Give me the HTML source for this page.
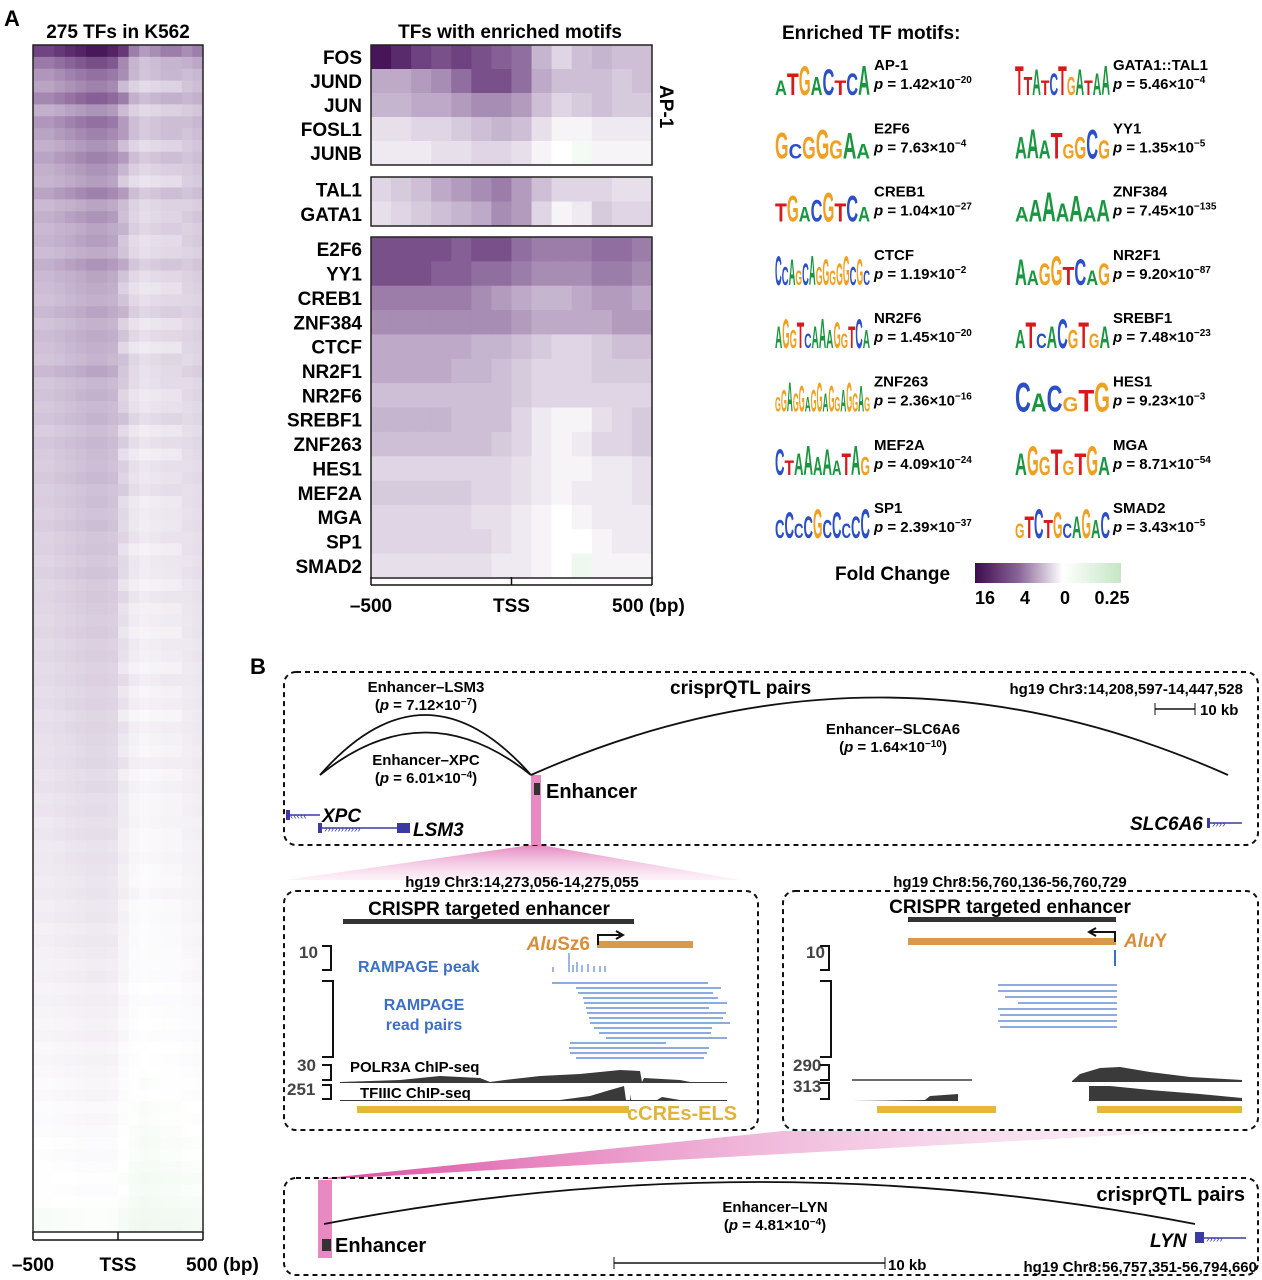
<!DOCTYPE html>
<html><head><meta charset="utf-8"><style>
body{margin:0;background:#fff}
svg{display:block;font-family:"Liberation Sans",Arial,sans-serif}
.b{font-weight:bold}
</style></head><body>
<svg id="fig" width="1262" height="1280" viewBox="0 0 1262 1280" xmlns="http://www.w3.org/2000/svg">
<defs>
<linearGradient id="pinkfan" x1="0" y1="0" x2="0" y2="1"><stop offset="0" stop-color="#e278b8" stop-opacity="0.9"/><stop offset="1" stop-color="#f6d2e8" stop-opacity="0.3"/></linearGradient>
<linearGradient id="pinkfan2" x1="0" y1="0" x2="1" y2="0"><stop offset="0" stop-color="#d9409a" stop-opacity="0.95"/><stop offset="0.5" stop-color="#ea9acb" stop-opacity="0.7"/><stop offset="1" stop-color="#f6d2e8" stop-opacity="0.3"/></linearGradient>
<linearGradient id="cbar" x1="0" y1="0" x2="1" y2="0"><stop offset="0" stop-color="#3d0a4e"/><stop offset="0.3" stop-color="#8a6599"/><stop offset="0.6" stop-color="#ffffff"/><stop offset="1" stop-color="#c5e6c5"/></linearGradient>
</defs>
<text x="4" y="26" class="b" font-size="22">A</text>
<text x="118" y="38" class="b" font-size="19" text-anchor="middle">275 TFs in K562</text>
<g id="leftHM"></g>
<rect x="33" y="45" width="170" height="1187" fill="none" stroke="#222" stroke-width="1.5"/>
<g id="leftAxis"></g>

<text x="510" y="38" class="b" font-size="19" text-anchor="middle">TFs with enriched motifs</text>
<g id="midHM"></g>
<g id="midAxis"></g>
<text x="660" y="85" class="b" font-size="19" transform="rotate(90 660 85)">AP-1</text>

<text x="782" y="39" class="b" font-size="19">Enriched TF motifs:</text>
<g id="motifs"></g>

<text x="835" y="580" class="b" font-size="19">Fold Change</text>
<rect x="975" y="563" width="146" height="20" fill="url(#cbar)"/>
<g font-size="18" class="b" text-anchor="middle">
<text x="985" y="604">16</text><text x="1025" y="604">4</text><text x="1065" y="604">0</text><text x="1112" y="604">0.25</text>
</g>

<!-- Panel B -->
<text x="250" y="674" class="b" font-size="22">B</text>
<polygon points="531,845 541,845 740,880 285,880" fill="url(#pinkfan)"/>
<polygon points="783,1131 1195,1131 332,1179 318,1179" fill="url(#pinkfan2)"/>
<rect x="284" y="672" width="974" height="173" rx="12" fill="none" stroke="#111" stroke-width="2" stroke-dasharray="5,4"/>
<rect x="531" y="775" width="10" height="70" fill="#e889c2"/>
<text x="670" y="694" class="b" font-size="19">crisprQTL pairs</text>
<text x="1243" y="694" class="b" font-size="15" text-anchor="end">hg19 Chr3:14,208,597-14,447,528</text>
<line x1="1155" y1="709" x2="1195" y2="709" stroke="#111" stroke-width="1.5"/><line x1="1155" y1="703" x2="1155" y2="715" stroke="#111"/><line x1="1195" y1="703" x2="1195" y2="715" stroke="#111"/>
<text x="1200" y="715" class="b" font-size="15">10 kb</text>
<g fill="none" stroke="#111" stroke-width="1.8">
<path d="M320,775 Q425,655 531,775"/>
<path d="M320,775 Q425,690 531,775"/>
<path d="M531,775 Q880,620 1228,775"/>
</g>
<g class="b" font-size="15" text-anchor="middle">
<text x="426" y="692">Enhancer–LSM3</text><text x="426" y="710">(<tspan font-style="italic">p</tspan> = 7.12×10<tspan dy="-5" font-size="10">−7</tspan><tspan dy="5">)</tspan></text>
<text x="426" y="765">Enhancer–XPC</text><text x="426" y="783">(<tspan font-style="italic">p</tspan> = 6.01×10<tspan dy="-5" font-size="10">−4</tspan><tspan dy="5">)</tspan></text>
<text x="893" y="734">Enhancer–SLC6A6</text><text x="893" y="752">(<tspan font-style="italic">p</tspan> = 1.64×10<tspan dy="-5" font-size="10">−10</tspan><tspan dy="5">)</tspan></text>
</g>
<rect x="534" y="783" width="6" height="12" fill="#333"/>
<text x="546" y="798" class="b" font-size="20">Enhancer</text>
<g><line x1="286" y1="815" x2="320" y2="815" stroke="#3a3aa0" stroke-width="1.5"/><rect x="286" y="810" width="4" height="10" fill="#3a3aa0"/><text x="290" y="819" font-size="10" fill="#3a3aa0">‹‹‹‹‹</text><text x="322" y="822" class="b" font-style="italic" font-size="19">XPC</text></g>
<g><line x1="318" y1="828" x2="400" y2="828" stroke="#3a3aa0" stroke-width="1.5"/><rect x="318" y="823" width="4" height="10" fill="#3a3aa0"/><rect x="397" y="823" width="13" height="10" fill="#3a3aa0"/><text x="324" y="832" font-size="10" fill="#3a3aa0">›››››››››››</text><text x="413" y="836" class="b" font-style="italic" font-size="19">LSM3</text></g>
<g><text x="1130" y="830" class="b" font-style="italic" font-size="19">SLC6A6</text><line x1="1207" y1="823" x2="1242" y2="823" stroke="#3a3aa0" stroke-width="1.5"/><rect x="1207" y="818" width="3" height="10" fill="#3a3aa0"/><text x="1212" y="827" font-size="10" fill="#3a3aa0">››››</text></g>

<!-- sub box 1 -->
<text x="522" y="887" class="b" font-size="15" text-anchor="middle">hg19 Chr3:14,273,056-14,275,055</text>
<rect x="284" y="891" width="474" height="239" rx="12" fill="none" stroke="#111" stroke-width="2" stroke-dasharray="5,4"/>
<text x="489" y="915" class="b" font-size="19" text-anchor="middle">CRISPR targeted enhancer</text>
<rect x="343" y="919" width="291" height="5" fill="#333"/>
<text x="590" y="950" class="b" font-style="italic" font-size="19" fill="#d98d38" text-anchor="end">Alu<tspan font-style="normal">Sz6</tspan></text>
<rect x="597" y="941" width="96" height="7" fill="#d9994d"/>
<path d="M598,945 L598,935 L622,935 M616,931 L623,935 L616,939" fill="none" stroke="#111" stroke-width="2"/>
<g class="b" font-size="17" fill="#444"><text x="299" y="958">10</text><text x="297" y="1071">30</text><text x="287" y="1095">251</text></g>
<path d="M322,946 L331,946 L331,970 L322,970 M322,981 L333,981 L333,1057 L322,1057 M322,1065 L331,1065 L331,1080 L322,1080 M322,1085 L331,1085 L331,1099 L322,1099" fill="none" stroke="#111" stroke-width="2"/>
<text x="358" y="972" class="b" font-size="16" fill="#3d6fc6">RAMPAGE peak</text>
<g stroke="#3d6fc6" stroke-width="1">
<line x1="553" y1="967" x2="553" y2="972"/><line x1="569" y1="953" x2="569" y2="972"/><line x1="573" y1="965" x2="573" y2="972"/><line x1="577" y1="962" x2="577" y2="972"/><line x1="582" y1="965" x2="582" y2="972"/><line x1="588" y1="964" x2="588" y2="972"/><line x1="594" y1="966" x2="594" y2="972"/><line x1="600" y1="966" x2="600" y2="972"/><line x1="605" y1="966" x2="605" y2="972"/></g>
<text x="424" y="1010" class="b" font-size="16" fill="#3d6fc6" text-anchor="middle">RAMPAGE</text>
<text x="424" y="1030" class="b" font-size="16" fill="#3d6fc6" text-anchor="middle">read pairs</text>
<g id="reads1" stroke="#4a78cc" stroke-width="1.2"></g>
<text x="350" y="1072" class="b" font-size="15">POLR3A ChIP-seq</text>
<path d="M340,1082 L400,1080 L440,1076 L480,1078 L490,1082 L505,1080 L540,1076 L580,1074 L600,1072 L620,1070 L640,1071 L642,1082 L644,1078 L680,1080 L690,1082 L727,1082 L727,1083 L340,1083Z" fill="#3a3a3a"/>
<text x="360" y="1098" class="b" font-size="15">TFIIIC ChIP-seq</text>
<path d="M340,1100 L560,1100 L590,1096 L610,1090 L624,1086 L626,1100 L630,1100 L630,1094 L631,1100 L657,1100 L662,1097 L680,1100 L727,1100 L727,1101 L340,1101Z" fill="#3a3a3a"/>
<rect x="357" y="1106" width="272" height="7" fill="#e3b93a"/>
<text x="627" y="1120" class="b" font-size="20" fill="#e0b33a">cCREs-ELS</text>

<!-- sub box 2 -->
<text x="1010" y="887" class="b" font-size="15" text-anchor="middle">hg19 Chr8:56,760,136-56,760,729</text>
<rect x="783" y="891" width="475" height="239" rx="12" fill="none" stroke="#111" stroke-width="2" stroke-dasharray="5,4"/>
<text x="1010" y="913" class="b" font-size="19" text-anchor="middle">CRISPR targeted enhancer</text>
<rect x="908" y="917" width="208" height="5" fill="#333"/>
<rect x="908" y="938" width="208" height="7" fill="#d9994d"/>
<path d="M1115,942 L1115,932 L1090,932 M1096,928 L1089,932 L1096,936" fill="none" stroke="#111" stroke-width="2"/>
<text x="1124" y="947" class="b" font-style="italic" font-size="19" fill="#d98d38">Alu<tspan font-style="normal">Y</tspan></text>
<g class="b" font-size="17" fill="#444"><text x="806" y="958">10</text><text x="793" y="1071">290</text><text x="793" y="1092">313</text></g>
<path d="M820,946 L829,946 L829,970 L820,970 M820,981 L831,981 L831,1057 L820,1057 M820,1065 L829,1065 L829,1080 L820,1080 M820,1083 L829,1083 L829,1099 L820,1099" fill="none" stroke="#111" stroke-width="2"/>
<line x1="1115" y1="950" x2="1115" y2="966" stroke="#3d6fc6" stroke-width="2"/>
<g id="reads2" stroke="#4a78cc" stroke-width="1.2"></g>
<line x1="852" y1="1080" x2="972" y2="1080" stroke="#3a3a3a" stroke-width="1.5"/>
<path d="M1072,1081 L1080,1074 L1100,1068 L1120,1067 L1150,1072 L1190,1077 L1242,1080 L1242,1082 L1072,1082Z" fill="#3a3a3a"/>
<path d="M852,1101 L925,1100 L930,1096 L958,1094 L958,1101Z" fill="#3a3a3a"/>
<path d="M1089,1101 L1089,1086 L1110,1086 L1150,1090 L1200,1094 L1242,1098 L1242,1101Z" fill="#3a3a3a"/>
<rect x="877" y="1106" width="119" height="7" fill="#e3b93a"/><rect x="1097" y="1106" width="145" height="7" fill="#e3b93a"/>

<!-- bottom box -->
<rect x="284" y="1178" width="974" height="97" rx="12" fill="none" stroke="#111" stroke-width="2" stroke-dasharray="5,4"/>
<rect x="318" y="1180" width="14" height="78" fill="#e889c2"/>
<text x="1245" y="1201" class="b" font-size="20" text-anchor="end">crisprQTL pairs</text>
<path d="M324,1224 Q760,1140 1195,1224" fill="none" stroke="#111" stroke-width="1.8"/>
<text x="775" y="1212" class="b" font-size="15" text-anchor="middle">Enhancer–LYN</text>
<text x="775" y="1230" class="b" font-size="15" text-anchor="middle">(<tspan font-style="italic">p</tspan> = 4.81×10<tspan dy="-5" font-size="10">−4</tspan><tspan dy="5">)</tspan></text>
<rect x="322" y="1239" width="9" height="12" fill="#333"/>
<text x="335" y="1252" class="b" font-size="20">Enhancer</text>
<text x="1150" y="1247" class="b" font-style="italic" font-size="19">LYN</text>
<rect x="1195" y="1232" width="9" height="11" fill="#3a3aa0"/><line x1="1204" y1="1238" x2="1246" y2="1238" stroke="#3a3aa0" stroke-width="1.5"/><text x="1206" y="1242" font-size="10" fill="#3a3aa0">›››››</text>
<line x1="614" y1="1263" x2="885" y2="1263" stroke="#111" stroke-width="1.5"/><line x1="614" y1="1257" x2="614" y2="1269" stroke="#111"/><line x1="885" y1="1257" x2="885" y2="1269" stroke="#111"/>
<text x="888" y="1270" class="b" font-size="15">10 kb</text>
<text x="1257" y="1272" class="b" font-size="15" text-anchor="end">hg19 Chr8:56,757,351-56,794,660</text>
</svg>
<script>
// ---- data ----
const leftRowIntensity=[0.85,0.65,0.55,0.5,0.6,0.45,0.55,0.5,0.45,0.5,0.45,0.42,0.5,0.4,0.45,0.4,0.42,0.38,0.45,0.4,0.38,0.36,0.4,0.35,0.38,0.36,0.34,0.4,0.33,0.35,0.32,0.34,0.3,0.33,0.31,0.3,0.32,0.29,0.3,0.28,0.3,0.27,0.28,0.26,0.28,0.25,0.26,0.25,0.24,0.25,0.23,0.24,0.22,0.23,0.21,0.22,0.2,0.21,0.2,0.19,0.2,0.18,0.19,0.17,0.18,0.16,0.17,0.15,0.16,0.15,0.14,0.15,0.13,0.14,0.12,0.13,0.12,0.11,0.12,0.1,0.11,0.1,0.09,0.1,0.08,0.09,0.08,0.07,0.08,0.06,0.07,0.06,0.05,0.06,0.05,0.04,0.05,0.04,0.03,0.03];
const leftRowRightDip=[0,0.3,0,0.6,0,0.4,0.2,0,0.5,0,0.3,0.7,0,0.2,0.5,0,0.6,0.3,0,0.4,0.7,0.2,0,0.6,0.3,0.8,0,0.5,0.2,0.7,0.4,0,0.6,0.3,0.8,0.2,0.5,0,0.7,0.4,0.6,0.2,0.8,0.3,0.5,0.7,0.2,0.6,0.4,0.8,0.3,0.5,0.7,0.2,0.6,0.4,0.8,0.3,0.5,0.6,0.2,0.7,0.4,0.5,0.6,0.3,0.7,0.5,0.4,0.6,0.5,0.3,0.6,0.5,0.4,0.6,0.5,0.4,0.5,0.6,0.4,0.5,0.5,0.4,0.5,0.5,0.4,0.5,0.5,0.4,0.5,0.5,0.4,0.5,0.5,0.4,0.5,0.5,0.4,0.5];
const leftColProfile=[0.8,0.8,0.85,0.9,0.95,1,1,0.95,0.85,0.6,0.5,0.55,0.6,0.6,0.55,0.6];
const midTFs=["FOS","JUND","JUN","FOSL1","JUNB","TAL1","GATA1","E2F6","YY1","CREB1","ZNF384","CTCF","NR2F1","NR2F6","SREBF1","ZNF263","HES1","MEF2A","MGA","SP1","SMAD2"];
const midGroups=[5,2,14];
const midValues=[
[.95,.85,.75,.7,.75,.7,.65,.6,.35,.2,.3,.35,.3,.3],
[.4,.4,.45,.5,.6,.7,.7,.6,.4,.3,.3,.3,.25,.3],
[.35,.35,.4,.4,.45,.5,.5,.45,.3,.2,.25,.3,.25,.25],
[.15,.15,.2,.2,.25,.3,.35,.3,.15,.05,.05,.1,.1,.1],
[.1,.1,.1,.15,.15,.2,.2,.15,.05,0,-.02,.05,.05,.05],
[.2,.25,.3,.4,.45,.5,.55,.45,.3,.2,.2,.2,.15,.15],
[.15,.2,.25,.3,.35,.4,.5,.45,.2,.05,.1,.25,.2,.2],
[.7,.7,.7,.7,.65,.7,.7,.6,.55,.55,.55,.6,.6,.55],
[.7,.7,.7,.65,.65,.6,.6,.55,.5,.5,.5,.55,.55,.5],
[.55,.55,.55,.55,.55,.5,.45,.4,.35,.35,.4,.45,.45,.4],
[.5,.5,.5,.5,.5,.5,.5,.45,.4,.4,.4,.4,.45,.45],
[.4,.4,.4,.4,.4,.35,.35,.3,.25,.2,.2,.25,.3,.3],
[.4,.4,.4,.4,.35,.35,.3,.25,.2,.2,.2,.25,.25,.25],
[.3,.3,.3,.3,.3,.3,.3,.25,.2,.2,.2,.2,.2,.2],
[.35,.35,.35,.35,.3,.3,.3,.2,.1,.05,.05,.15,.2,.25],
[.3,.3,.3,.3,.3,.3,.25,.2,.1,.05,.1,.2,.2,.25],
[.2,.2,.2,.2,.2,.2,.2,.15,.1,.05,.05,.1,.1,.15],
[.25,.25,.25,.25,.25,.2,.2,.15,.1,.05,.1,.1,.1,.15],
[.2,.2,.2,.2,.2,.15,.15,.1,.05,0,.05,.1,.1,.1],
[.2,.2,.2,.2,.2,.2,.15,.1,.05,0,0,.05,.1,.1],
[.15,.15,.15,.15,.15,.15,.1,.1,.05,0,-.03,.05,.05,.05]];
const xTickLabels=["–500","TSS","500 (bp)"];
const motifNames=["AP-1","E2F6","CREB1","CTCF","NR2F6","ZNF263","MEF2A","SP1","GATA1::TAL1","YY1","ZNF384","NR2F1","SREBF1","HES1","MGA","SMAD2"];
const motifMant=["1.42","7.63","1.04","1.19","1.45","2.36","4.09","2.39","5.46","1.35","7.45","9.20","7.48","9.23","8.71","3.43"];
const motifExp=["−20","−4","−27","−2","−20","−16","−24","−37","−4","−5","−135","−87","−23","−3","−54","−5"];
const motifSeqs=["ATGACTCA","GCGGGAA","TGACGTCA","CCAGCAGGGGGCGC","AGGTCAAAGGTCA","GGAGGAGGAGGAGGAG","CTAAAAATAG","CCCCGCCCCC","TTATCTGATAA","AAATGGCG","AAAAAAA","AAGGTCAG","ATCACGTGA","CACGTG","AGGTGTGA","GTCTGCAGAC"];
const reads1=[[552,708],[576,721],[578,713],[583,718],[584,727],[586,709],[587,726],[589,723],[590,730],[594,712],[599,711],[606,727],[570,666],[569,709],[570,707],[576,704]];
const reads2=[[998,1117],[998,1117],[1005,1117],[1018,1117],[998,1117],[1000,1117],[998,1117],[1000,1117]];

const NS="http://www.w3.org/2000/svg";
function mk(tag,attrs,parent){const e=document.createElementNS(NS,tag);for(const k in attrs)e.setAttribute(k,attrs[k]);parent.appendChild(e);return e;}
function lerp(a,b,t){return a.map((v,i)=>Math.round(v+(b[i]-v)*t));}
function color(v){
  if(v<0){const t=Math.min(1,-v/0.1);const c=lerp([255,255,255],[200,232,200],t);return `rgb(${c})`;}
  const stops=[[0,[255,255,255]],[0.4,[190,170,200]],[0.75,[110,65,128]],[1,[61,10,78]]];
  v=Math.min(1,v);
  for(let i=1;i<stops.length;i++){if(v<=stops[i][0]){const t=(v-stops[i-1][0])/(stops[i][0]-stops[i-1][0]);return `rgb(${lerp(stops[i-1][1],stops[i][1],t)})`;}}
}
// left heatmap
const L={x0:33,x1:203,y0:45,y1:1232};
const lx=j=>L.x0+(L.x1-L.x0)*j/leftColProfile.length;
const ly=i=>L.y0+(L.y1-L.y0)*i/leftRowIntensity.length;
const lg=document.getElementById('leftHM');
leftRowIntensity.forEach((r,i)=>{leftColProfile.forEach((p,j)=>{
  let v=r*p*1.15;
  if(j>=8&&j<=13) v*=1-leftRowRightDip[i]*0.45;
  const c=mk('rect',{x:lx(j),y:ly(i),width:lx(j+1)-lx(j)+0.5,height:ly(i+1)-ly(i)+0.5,fill:color(v-0.04)},lg);
  
  
});});
function axis(g,x0,x1,y,ly,off){
  mk('line',{x1:x0,y1:y,x2:x1,y2:y,stroke:'#111','stroke-width':1.5},g);
  xTickLabels.forEach((t,k)=>{const x=x0+(x1-x0)*k/2;mk('line',{x1:x,y1:y,x2:x,y2:y-8,stroke:'#111','stroke-width':1.5},g);
    const tx=mk('text',{x:k==2?x-off:x,y:ly,'font-size':19,'font-weight':'bold','text-anchor':k==2?'start':'middle'},g);tx.textContent=t;
    
    });
}
axis(document.getElementById('leftAxis'),33,203,1240,1271,17);
// middle heatmap
const M={x0:371,x1:652};
const blocks=[[45,165],[177,226],[237,578]];
const mx=j=>M.x0+(M.x1-M.x0)*j/midValues[0].length;
const mg=document.getElementById('midHM');
let ri=0;
midGroups.forEach((n,g)=>{
  const [b0,b1]=blocks[g];const h=(b1-b0)/n;
  for(let k=0;k<n;k++,ri++){
    const y=b0+h*k;
    midValues[ri].forEach((v,j)=>{const c=mk('rect',{x:mx(j),y:y,width:mx(j+1)-mx(j)+0.5,height:h+0.5,fill:color(v)},mg);
      
      });
    const t=mk('text',{x:362,y:y+h/2+7,'font-size':19,'font-weight':'bold','text-anchor':'end'},mg);t.textContent=midTFs[ri];
    
    
  }
  mk('rect',{x:M.x0,y:b0,width:M.x1-M.x0,height:b1-b0,fill:'none',stroke:'#222','stroke-width':1.5},mg);
});
axis(document.getElementById('midAxis'),371,652,585,612,40);
// motifs
const lc={A:'#1a9641',C:'#2b4fc6',G:'#f0a020',T:'#d7191c'};
const mg2=document.getElementById('motifs');
motifNames.forEach((nm,i)=>{
  const col=Math.floor(i/8),row=i%8;
  const lx0=col?1015:775, tx=col?1113:874, yc=75+row*63.3;
  const seq=motifSeqs[i];const w=95/seq.length;
  const g=mk('g',{},mg2);
  
  
  [...seq].forEach((ch,k)=>{const hs=0.5+0.5*((k*7+i*3)%5)/4;
    const t=mk('text',{x:0,y:0,'font-size':30,'font-weight':'bold',fill:lc[ch],textLength:w,lengthAdjust:'spacingAndGlyphs',transform:`translate(${lx0+k*w},${yc+20}) scale(1,${hs*1.4})`},g);t.textContent=ch;});
  const n=mk('text',{x:tx,y:yc-5,'font-size':15,'font-weight':'bold'},mg2);n.textContent=nm;
  
  
  const p=mk('text',{x:tx,y:yc+14,'font-size':15,'font-weight':'bold'},mg2);
  p.innerHTML=`<tspan font-style="italic">p</tspan> = ${motifMant[i]}×10<tspan dy="-6" font-size="10">${motifExp[i]}</tspan>`;
  
  
});
// reads
const r1=document.getElementById('reads1');
reads1.forEach((r,i)=>{const l=mk('line',{x1:r[0],y1:983+i*5,x2:r[1],y2:983+i*5},r1);
  
  });
const r2=document.getElementById('reads2');
reads2.forEach((r,i)=>{const l=mk('line',{x1:r[0],y1:985+i*6,x2:r[1],y2:985+i*6},r2);
  
  });
</script>
</body></html>
